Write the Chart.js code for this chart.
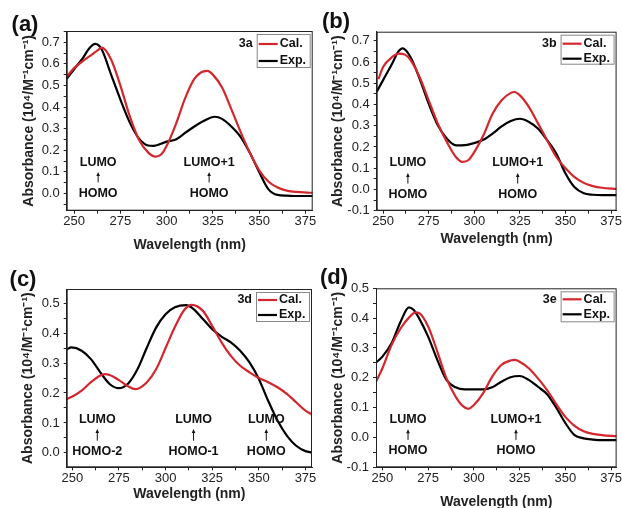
<!DOCTYPE html>
<html>
<head>
<meta charset="utf-8">
<script src="https://cdn.jsdelivr.net/npm/chart.js@4.4.1/dist/chart.umd.min.js"></script>
<style>
  body { margin: 0; background: #fff; }
  #wrap { position: relative; width: 622px; height: 508px; overflow: hidden; }
  canvas { position: absolute; }
</style>
</head>
<body>
<div id="wrap">
  <canvas id="chartA" width="318" height="254" style="left:0;top:0"></canvas>
  <canvas id="chartB" width="311" height="254" style="left:311px;top:0"></canvas>
  <canvas id="chartC" width="318" height="254" style="left:0;top:254px"></canvas>
  <canvas id="chartD" width="311" height="254" style="left:311px;top:254px"></canvas>
</div>
<script>
// ---- data ----
var calWaveA = [246, 250, 255, 260, 263, 265, 270, 275, 280, 285, 290, 294, 297, 300, 305, 310, 315, 320, 322, 325, 330, 335, 340, 345, 350, 355, 360, 365, 370, 379];
var calA     = [0.54, 0.58, 0.615, 0.645, 0.665, 0.675, 0.62, 0.5, 0.36, 0.25, 0.19, 0.17, 0.18, 0.22, 0.32, 0.44, 0.53, 0.565, 0.567, 0.55, 0.49, 0.39, 0.285, 0.188, 0.108, 0.055, 0.027, 0.013, 0.007, 0.003];
var expWaveA = [246, 250, 255, 258, 261.5, 265, 270, 275, 280, 285, 290, 293, 297, 300, 305, 310, 315, 320, 326, 330, 335, 340, 345, 350, 355, 360, 365, 370, 379];
var expA     = [0.53, 0.575, 0.63, 0.67, 0.692, 0.665, 0.55, 0.435, 0.33, 0.255, 0.222, 0.22, 0.23, 0.24, 0.25, 0.28, 0.31, 0.335, 0.355, 0.345, 0.31, 0.262, 0.188, 0.1, 0.02, -0.007, -0.01, -0.012, -0.012];

var calWaveB = [247.5, 250, 255, 258.5, 262, 265, 270, 275, 280, 285, 290, 293.5, 297, 300, 305, 310, 315, 320, 322, 325, 330, 335, 340, 345, 350, 355, 360, 365, 370, 378];
var calB     = [0.52, 0.577, 0.624, 0.64, 0.635, 0.61, 0.53, 0.42, 0.31, 0.223, 0.152, 0.13, 0.14, 0.176, 0.255, 0.357, 0.42, 0.455, 0.459, 0.443, 0.388, 0.31, 0.231, 0.153, 0.1, 0.058, 0.031, 0.016, 0.008, 0.003];
var expWaveB = [246.5, 250, 255, 258, 260.7, 265, 270, 275, 280, 285, 290, 295, 300, 305, 310, 315, 320, 325, 330, 335, 340, 345, 350, 355, 360, 365, 370, 378];
var expB     = [0.46, 0.515, 0.593, 0.645, 0.664, 0.624, 0.522, 0.404, 0.302, 0.239, 0.208, 0.209, 0.219, 0.234, 0.263, 0.297, 0.322, 0.333, 0.318, 0.286, 0.231, 0.168, 0.075, 0.01, -0.018, -0.025, -0.027, -0.027];

var calWaveC = [247, 250, 255, 260, 265, 267.5, 270, 275, 280, 284, 290, 295, 300, 305, 310, 314, 320, 325, 330, 335, 340, 345, 350, 355, 360, 365, 370, 375, 378.5];
var calC     = [0.18, 0.188, 0.208, 0.236, 0.258, 0.263, 0.26, 0.243, 0.222, 0.213, 0.236, 0.28, 0.35, 0.42, 0.477, 0.494, 0.474, 0.424, 0.369, 0.324, 0.291, 0.269, 0.25, 0.236, 0.219, 0.197, 0.169, 0.141, 0.128];
var expWaveC = [247, 249.5, 255, 260, 265, 270, 275, 280, 285, 290, 295, 300, 305, 311, 315, 320, 325, 330, 335, 340, 345, 350, 355, 360, 365, 370, 375, 378.5];
var expC     = [0.345, 0.352, 0.341, 0.313, 0.269, 0.23, 0.216, 0.232, 0.28, 0.352, 0.419, 0.463, 0.486, 0.493, 0.48, 0.447, 0.413, 0.388, 0.369, 0.341, 0.302, 0.247, 0.174, 0.108, 0.058, 0.024, 0.006, 0.001];

var calWaveD = [246.5, 250, 255, 260, 265, 268, 270, 275, 280, 285, 290, 294, 297, 300, 305, 310, 315, 320, 322.5, 325, 330, 335, 340, 345, 350, 355, 360, 365, 370, 378];
var calD     = [0.187, 0.232, 0.31, 0.366, 0.405, 0.419, 0.417, 0.372, 0.288, 0.198, 0.137, 0.105, 0.096, 0.109, 0.148, 0.204, 0.243, 0.258, 0.26, 0.254, 0.232, 0.198, 0.159, 0.112, 0.069, 0.039, 0.021, 0.012, 0.008, 0.004];
var expWaveD = [246.5, 250, 255, 260, 264.5, 267, 270, 275, 280, 285, 290, 295, 300, 305, 310, 315, 320, 325, 330, 335, 340, 345, 350, 355, 360, 365, 370, 378];
var expD     = [0.251, 0.271, 0.316, 0.389, 0.436, 0.428, 0.4, 0.338, 0.26, 0.193, 0.168, 0.161, 0.161, 0.161, 0.168, 0.187, 0.202, 0.206, 0.193, 0.17, 0.145, 0.1, 0.048, 0.008, -0.003, -0.007, -0.009, -0.009];

var seriesNames = ['Cal.', 'Exp.'];
var compounds = ['3a', '3b', '3d', '3e'];
var panelTags = ['(a)', '(b)', '(c)', '(d)'];
var xTitle = 'Wavelength (nm)';
var yTitle = 'Absorbance (10\u2074/M\u207B\u00B9cm\u207B\u00B9)';

// transition labels: [wavelength, upper text, lower text]
var notesA = [[263, 'LUMO', 'HOMO'], [323, 'LUMO+1', 'HOMO']];
var notesB = [[263.6, 'LUMO', 'HOMO'], [323.8, 'LUMO+1', 'HOMO']];
var notesC = [[263.4, 'LUMO', 'HOMO-2'], [315, 'LUMO', 'HOMO-1'], [354, 'LUMO', 'HOMO']];
var notesD = [[264, 'LUMO', 'HOMO'], [323, 'LUMO+1', 'HOMO']];

var RED = '#d3262d';
var FONT = '"Liberation Sans", Arial, sans-serif';
Chart.defaults.font.family = FONT;
Chart.defaults.color = '#222';

function pts(xs, ys) {
  return xs.map(function(w, i){ return {x: w, y: ys[i]}; });
}
function isStep(v, step) {
  var r = v / step;
  return Math.abs(r - Math.round(r)) < 1e-6;
}
// every multiple of step inside [min, max] (major + minor)
function stepTicks(min, max, step) {
  var out = [];
  for (var k = Math.ceil(min / step - 1e-6); k * step <= max + 1e-9; k++) {
    out.push({ value: Math.round(k * step * 1000) / 1000 });
  }
  return out;
}

// frame, legend, transition labels and panel tag
var deco = {
  id: 'deco',
  afterDatasetsDraw: function(chart, args, o) {
    var ctx = chart.ctx, a = chart.chartArea, xs = chart.scales.x, ys = chart.scales.y;
    ctx.save();
    ctx.strokeStyle = '#222';
    ctx.lineWidth = 1;
    ctx.strokeRect(a.left + 0.5, a.top + 0.5, a.right - a.left - 1, a.bottom - a.top - 1);

    // LUMO <- HOMO labels
    ctx.fillStyle = '#111';
    ctx.font = 'bold 12.5px ' + FONT;
    ctx.textAlign = 'center';
    ctx.textBaseline = 'middle';
    o.notes.forEach(function(n){
      var px = xs.getPixelForValue(n[0]);
      var yt = ys.getPixelForValue(o.noteTop), yb = ys.getPixelForValue(o.noteBottom);
      ctx.fillText(n[1], px, yt);
      ctx.fillText(n[2], px, yb);
      var y0 = yb - 11, y1 = yt + 10;
      ctx.strokeStyle = '#111';
      ctx.lineWidth = 1;
      ctx.beginPath();
      ctx.moveTo(px, y0); ctx.lineTo(px, y1 + 3);
      ctx.stroke();
      ctx.beginPath();
      ctx.moveTo(px, y1); ctx.lineTo(px - 1.8, y1 + 4); ctx.lineTo(px + 1.8, y1 + 4);
      ctx.closePath();
      ctx.fill();
    });

    // legend box
    var bw = 53, bh = o.boxH, bx = a.right - 3 - bw, by = a.top + 3;
    ctx.fillStyle = '#fff';
    ctx.fillRect(bx, by, bw, bh);
    ctx.strokeStyle = '#888';
    ctx.strokeRect(bx + 0.5, by + 0.5, bw, bh);
    ctx.font = 'bold 12.5px ' + FONT;
    ctx.textAlign = 'left';
    chart.data.datasets.forEach(function(ds, i){
      var ry = by + o.rowY[i];
      ctx.strokeStyle = ds.borderColor;
      ctx.lineWidth = 2.2;
      ctx.beginPath();
      ctx.moveTo(bx + 2, ry); ctx.lineTo(bx + 21, ry);
      ctx.stroke();
      ctx.fillStyle = '#111';
      ctx.fillText(ds.label, bx + 23, ry);
    });
    ctx.textAlign = 'right';
    ctx.fillText(o.name, bx - 4, by + o.rowY[0]);

    // panel tag
    ctx.font = 'bold 22px ' + FONT;
    ctx.textAlign = 'center';
    ctx.fillText(o.tag, o.tagX, o.tagY);
    ctx.restore();
  }
};

function makePanel(id, p) {
  var ctx = document.getElementById(id).getContext('2d');
  return new Chart(ctx, {
    type: 'line',
    data: {
      datasets: [
        { label: seriesNames[0], data: pts(p.calX, p.calY), borderColor: RED, borderWidth: 2.2 },
        { label: seriesNames[1], data: pts(p.expX, p.expY), borderColor: '#000', borderWidth: 2.2 }
      ]
    },
    options: {
      responsive: false,
      animation: false,
      layout: { padding: { left: 0, top: p.T, right: p.R, bottom: 0 } },
      elements: { point: { radius: 0 }, line: { cubicInterpolationMode: 'monotone', fill: false } },
      plugins: {
        legend: { display: false },
        tooltip: { enabled: false },
        deco: { notes: p.notes, noteTop: p.noteTop, noteBottom: p.noteBottom, name: p.name,
                tag: p.tag, tagX: p.tagX, tagY: p.tagY, boxH: p.boxH, rowY: p.rowY }
      },
      scales: {
        x: {
          type: 'linear', min: p.xMin, max: p.xMax,
          afterBuildTicks: function(s){ s.ticks = stepTicks(s.min, s.max, 12.5); },
          ticks: { autoSkip: false, maxRotation: 0, padding: 0,
                   font: { size: 13 },
                   callback: function(v){ return isStep(v, 25) ? v : ''; } },
          grid: { drawOnChartArea: false, drawTicks: true, tickLength: 3, color: '#222' },
          border: { color: '#222' },
          title: { display: true, text: xTitle, font: { size: 14, weight: 'bold' },
                   padding: { top: 0, bottom: p.xTitlePad } },
          afterFit: function(s){ s.height = p.H; }
        },
        y: {
          min: p.yMin, max: p.yMax,
          afterBuildTicks: function(s){ s.ticks = stepTicks(s.min, s.max, 0.05); },
          ticks: { autoSkip: false, padding: 4, font: { size: 13 },
                   callback: function(v){ return isStep(v, 0.1) ? (Math.round(v * 10) / 10).toFixed(1) : ''; } },
          grid: { drawOnChartArea: false, drawTicks: true, tickLength: 3, color: '#222' },
          border: { color: '#222' },
          title: { display: true, text: yTitle, font: { size: 14, weight: 'bold' },
                   padding: { top: p.yTitlePad, bottom: 0 } },
          afterFit: function(s){ s.width = p.L; }
        }
      }
    },
    plugins: [deco]
  });
}

makePanel('chartA', {
  calX: calWaveA, calY: calA, expX: expWaveA, expY: expA,
  xMin: 246, xMax: 379, yMin: -0.08, yMax: 0.752,
  L: 66.7, T: 31, R: 5.3, H: 43.3, yTitlePad: 20.6, xTitlePad: 0.6,
  notes: notesA, noteTop: 0.145, noteBottom: 0.0, name: compounds[0],
  tag: panelTags[0], tagX: 25, tagY: 25, boxH: 33, rowY: [10, 27]
});
makePanel('chartB', {
  calX: calWaveB, calY: calB, expX: expWaveB, expY: expB,
  xMin: 246.5, xMax: 378, yMin: -0.1, yMax: 0.743,
  L: 65.7, T: 31.7, R: 2, H: 43.3, yTitlePad: 18.3, xTitlePad: 6.6,
  notes: notesB, noteTop: 0.125, noteBottom: -0.024, name: compounds[1],
  tag: panelTags[1], tagX: 25, tagY: 22, boxH: 29, rowY: [9, 24]
});
makePanel('chartC', {
  calX: calWaveC, calY: calC, expX: expWaveC, expY: expC,
  xMin: 247, xMax: 378.5, yMin: -0.048, yMax: 0.547,
  L: 66.7, T: 35, R: 6, H: 40.7, yTitlePad: 19.9, xTitlePad: 5.6,
  notes: notesC, noteTop: 0.113, noteBottom: 0.004, name: compounds[2],
  tag: panelTags[2], tagX: 23, tagY: 26, boxH: 29, rowY: [8, 23]
});
makePanel('chartD', {
  calX: calWaveD, calY: calD, expX: expWaveD, expY: expD,
  xMin: 246.5, xMax: 378, yMin: -0.1, yMax: 0.5,
  L: 65, T: 34.3, R: 1, H: 40.7, yTitlePad: 18.3, xTitlePad: -2.4,
  notes: notesD, noteTop: 0.061, noteBottom: -0.045, name: compounds[3],
  tag: panelTags[3], tagX: 23, tagY: 24, boxH: 30, rowY: [8, 23]
});
</script>
</body>
</html>
